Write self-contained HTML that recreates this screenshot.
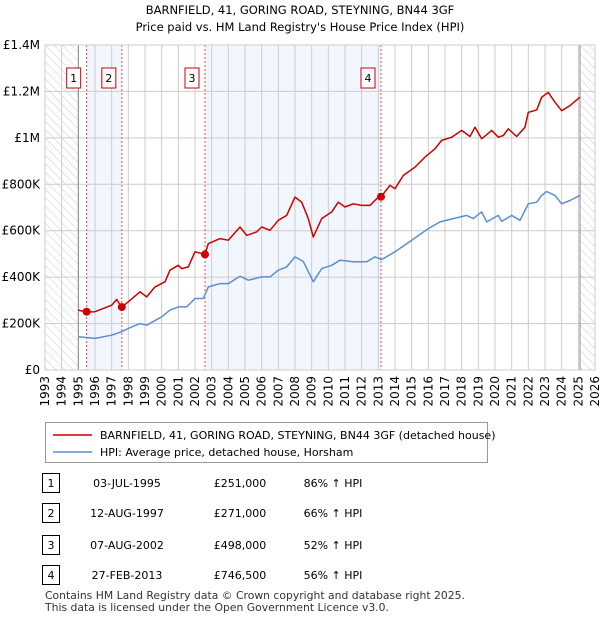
<!DOCTYPE html>
<html><head><meta charset="utf-8"><style>
body{margin:0;background:#fff;font-family:"Liberation Sans","DejaVu Sans",sans-serif;}
#wrap{position:relative;width:600px;height:620px;overflow:hidden;}
svg text{font-family:"DejaVu Sans","Liberation Sans",sans-serif;}
</style></head><body><div id="wrap">
<svg id="chart" width="600" height="620"></svg>
</div>
<script>
const hpiYears=[1995,1996,1997,1997.6,1998,1998.7,1999.1,2000,2000.5,2001,2001.5,2002,2002.5,2002.8,2003.5,2004,2004.7,2005.2,2006,2006.5,2007,2007.5,2008,2008.5,2009.1,2009.6,2010.2,2010.7,2011.5,2012.3,2012.8,2013.2,2014,2015,2016,2016.7,2017.5,2018.3,2018.7,2019.2,2019.5,2020.2,2020.4,2021,2021.5,2022,2022.5,2022.8,2023.1,2023.6,2024,2024.5,2025.1];
const hpiValues=[143,136,150,165,179,200,193,229,258,272,272,308,308,358,372,372,404,387,401,401,430,444,487,468,380,437,451,473,466,466,487,476,509,559,609,638,652,666,652,681,638,666,640,666,645,716,723,752,769,752,716,730,752];
const priceYears=[1995,1995.5,1996,1997,1997.3,1997.6,1998,1998.7,1999.1,1999.6,2000.2,2000.5,2001,2001.2,2001.6,2002,2002.6,2002.8,2003.5,2004,2004.7,2005.1,2005.7,2006,2006.5,2007,2007.5,2008,2008.4,2008.8,2009.1,2009.6,2010.2,2010.6,2011,2011.5,2012,2012.5,2012.9,2013.16,2013.7,2014,2014.5,2015.2,2015.8,2016.4,2016.8,2017.4,2018,2018.5,2018.8,2019.2,2019.8,2020.2,2020.5,2020.8,2021.3,2021.8,2022,2022.5,2022.8,2023.2,2023.6,2024,2024.5,2025.1];
const priceValues=[258,250,251,279,304,271,294,337,315,358,380,430,451,437,444,509,498,544,566,559,616,580,595,616,602,645,666,745,723,652,573,652,681,723,702,716,709,709,738,746,795,781,838,874,917,953,989,1003,1032,1006,1046,996,1032,1003,1010,1039,1006,1046,1110,1120,1175,1196,1153,1117,1139,1175];
const saleYears=[1995.5,1997.61,2002.6,2013.16];
const saleValues=[251,271,498,746.5];
const saleLabels=["1","2","3","4"];
const yTicks=[0,200,400,600,800,1000,1200,1400];
const yTickLabels=["£0","£200K","£400K","£600K","£800K","£1M","£1.2M","£1.4M"];
const xTicks=[];for(let y=1993;y<=2026;y++)xTicks.push(y);
const tableDates=["03-JUL-1995","12-AUG-1997","07-AUG-2002","27-FEB-2013"];
const tablePrices=["£251,000","£271,000","£498,000","£746,500"];
const tablePct=["86% ↑ HPI","66% ↑ HPI","52% ↑ HPI","56% ↑ HPI"];

const NS="http://www.w3.org/2000/svg";
const svg=document.getElementById('chart');
const X0=45,X1=595,Y0=370,Y1=45;
const xs=y=>X0+(y-1993)/(2026-1993)*(X1-X0);
const ys=v=>Y0-v/1400*(Y0-Y1);
function el(t,a,p){const e=document.createElementNS(NS,t);for(const k in a)e.setAttribute(k,a[k]);(p||svg).appendChild(e);return e;}
function tx(s,a,p){const e=el('text',a,p);e.textContent=s;return e;}

const defs=el('defs',{});
const pat=el('pattern',{id:'hatch',width:6,height:6,patternUnits:'userSpaceOnUse',patternTransform:'rotate(-45)'},defs);
el('line',{x1:0,y1:0,x2:0,y2:6,stroke:'#ccc','stroke-width':1},pat);

let t=tx("BARNFIELD, 41, GORING ROAD, STEYNING, BN44 3GF",{x:300,y:14,'text-anchor':'middle','font-size':11.5,fill:'#000'});

t=tx("Price paid vs. HM Land Registry's House Price Index (HPI)",{x:300,y:31,'text-anchor':'middle','font-size':11.5,fill:'#000'});


let r=el('rect',{x:xs(saleYears[0]),y:Y1,width:xs(saleYears[1])-xs(saleYears[0]),height:Y0-Y1,fill:'#f2f6fe'});

r=el('rect',{x:xs(saleYears[2]),y:Y1,width:xs(saleYears[3])-xs(saleYears[2]),height:Y0-Y1,fill:'#f2f6fe'});

r=el('rect',{x:X0,y:Y1,width:xs(1995)-X0,height:Y0-Y1,fill:'url(#hatch)'});

r=el('rect',{x:xs(2025.1),y:Y1,width:X1-xs(2025.1),height:Y0-Y1,fill:'url(#hatch)'});


yTicks.forEach((v,i)=>{
  const l=el('line',{x1:X0,x2:X1,y1:ys(v),y2:ys(v),stroke:'#ccc','stroke-width':1});
  
  const s=tx(yTickLabels[i],{x:X0-5,y:ys(v)+4,'text-anchor':'end','font-size':12,fill:'#000'});
  
});
xTicks.forEach(y=>{
  const l=el('line',{x1:xs(y),x2:xs(y),y1:Y1,y2:Y0,stroke:'#ccc','stroke-width':1});
  
  const s=tx(String(y),{x:0,y:0,'text-anchor':'end','font-size':12,fill:'#000',transform:`translate(${xs(y)+4},${Y0+6}) rotate(-90)`});
  
});
let b=el('line',{x1:xs(1995),x2:xs(1995),y1:Y1,y2:Y0,stroke:'#888'});

b=el('line',{x1:xs(2025.1),x2:xs(2025.1),y1:Y1,y2:Y0,stroke:'#888'});


saleYears.forEach((y,i)=>{
  const l=el('line',{x1:xs(y),x2:xs(y),y1:Y1,y2:Y0,stroke:'#e05050','stroke-dasharray':'2,2','stroke-width':1});
  
  const rr=el('rect',{x:xs(y)-20,y:68,width:14,height:20,fill:'#fff',stroke:'#cc0000'});
  
  tx(saleLabels[i],{x:xs(y)-13,y:82,'text-anchor':'middle','font-size':11,fill:'#000'});
});

function path(yrs,vals,color,name){
  const d=yrs.map((y,i)=>(i?'L':'M')+xs(y).toFixed(1)+','+ys(vals[i]).toFixed(1)).join('');
  const p=el('path',{d,fill:'none',stroke:color,'stroke-width':1.5,'stroke-linejoin':'round'});
  
}
path(hpiYears,hpiValues,'#5b8fd4','hpi-line');
path(priceYears,priceValues,'#cc0000','price-line');
saleYears.forEach((y,i)=>{
  const c=el('circle',{cx:xs(y),cy:ys(saleValues[i]),r:4,fill:'#cc0000'});
  
});
el('rect',{x:X0,y:Y1,width:X1-X0,height:Y0-Y1,fill:'none',stroke:'#ccc'});

const lg=el('g',{});
el('rect',{x:45.5,y:422.5,width:442,height:40,fill:'#fff',stroke:'#999'},lg);
el('line',{x1:53,x2:92,y1:435,y2:435,stroke:'#cc0000','stroke-width':1.5},lg);
let le=tx("BARNFIELD, 41, GORING ROAD, STEYNING, BN44 3GF (detached house)",{x:100,y:439,'font-size':11,fill:'#000'},lg);

el('line',{x1:53,x2:92,y1:452,y2:452,stroke:'#5b8fd4','stroke-width':1.5},lg);
le=tx("HPI: Average price, detached house, Horsham",{x:100,y:456,'font-size':11,fill:'#000'},lg);


const rowsY=[483,513,545,575];
rowsY.forEach((yy,i)=>{
  const g=el('g',{});
  el('rect',{x:42.5,y:yy-9.5,width:17,height:19,fill:'#fff',stroke:'#000'},g);
  tx(saleLabels[i],{x:51,y:yy+4,'text-anchor':'middle','font-size':11},g);
  tx(tableDates[i],{x:127,y:yy+4,'text-anchor':'middle','font-size':11},g);
  tx(tablePrices[i],{x:240,y:yy+4,'text-anchor':'middle','font-size':11},g);
  tx(tablePct[i],{x:333,y:yy+4,'text-anchor':'middle','font-size':11},g);
});
let f=tx("Contains HM Land Registry data © Crown copyright and database right 2025.",{x:45,y:599,'font-size':10.8,fill:'#333'});

f=tx("This data is licensed under the Open Government Licence v3.0.",{x:45,y:611,'font-size':10.8,fill:'#333'});

</script></body></html>
